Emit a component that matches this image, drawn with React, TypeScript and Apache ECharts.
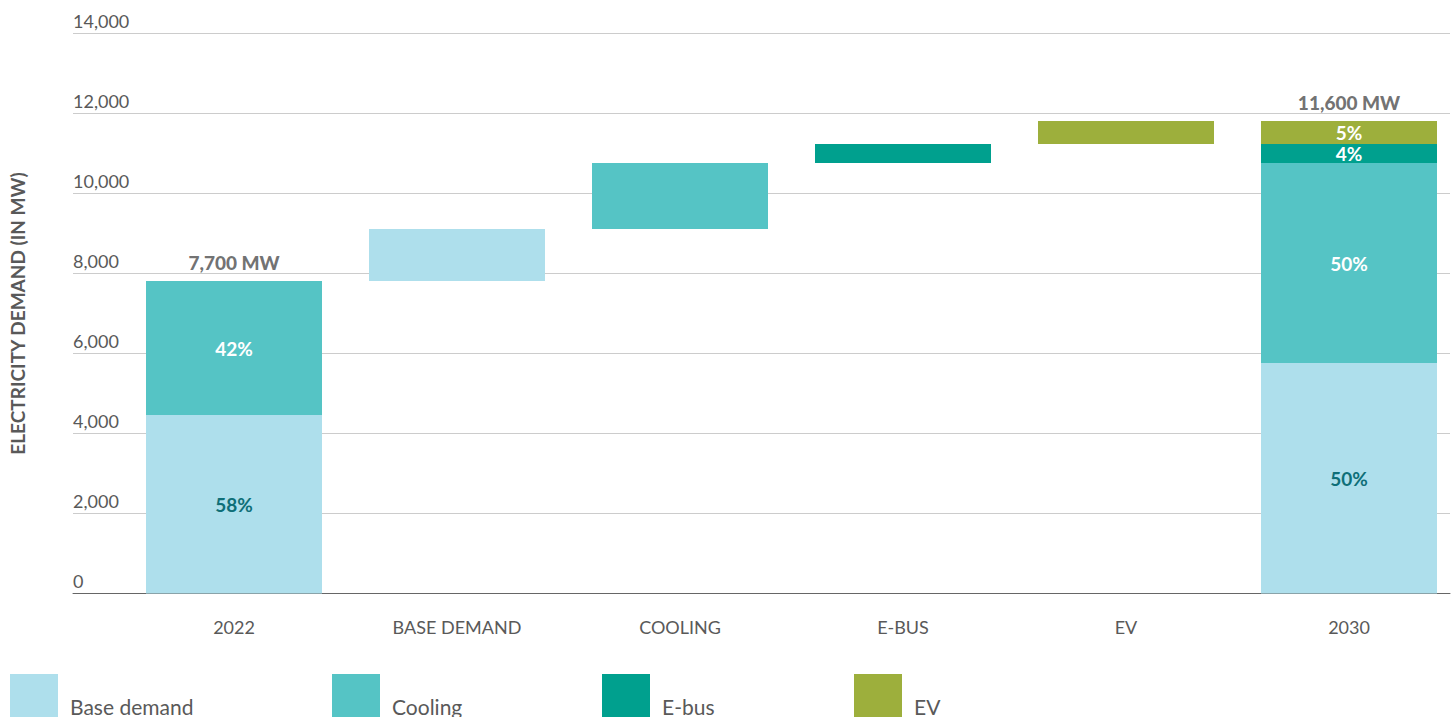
import React, { useEffect, useRef } from "react";
import * as echarts from "echarts";

const categories = ["2022", "BASE DEMAND", "COOLING", "E-BUS", "EV", "2030"];
const offset = [0, 7810, 9110, 10760, 11235, 0];
const baseDemand = [4460, 1300, null, null, null, 5760];
const cooling = [3350, null, 1650, null, null, 5000];
const eBus = [null, null, null, 475, null, 475];
const ev = [null, null, null, null, 575, 575];
const basePct = ["58%", "", "", "", "", "50%"];
const coolingPct = ["42%", "", "", "", "", "50%"];
const eBusPct = ["", "", "", "", "", "4%"];
const evPct = ["", "", "", "", "", "5%"];
const totalLabels = ["7,700 MW", "", "", "", "", "11,600 MW"];
const totalTops = [7810, null, null, null, null, 11810];
const legendNames = ["Base demand", "Cooling", "E-bus", "EV"];
const yTicks = [0, 2000, 4000, 6000, 8000, 10000, 12000, 14000];

const FONT = "Lato";
const GREY = "#595959";
const DARK = "#4d4d4d";
const COLORS = ["#aedfec", "#55c4c5", "#00a08e", "#9daf3c"];

function seg(values: (number | null)[], labels: string[]) {
  return values.map((v, i) =>
    v == null
      ? "-"
      : { value: v, label: { show: !!labels[i], formatter: labels[i] } }
  );
}

export default function App() {
  const ref = useRef<HTMLDivElement>(null);
  useEffect(() => {
    if (!ref.current) return;
    const chart = echarts.init(ref.current, null, { renderer: "svg" });
    const labelBase = {
      position: "inside",
      fontFamily: FONT,
      fontSize: 19,
      fontWeight: "bold",
    };
    const mk = (name: string, data: any, color: string, labelColor: string) => ({
      name,
      type: "bar",
      xAxisIndex: 1,
      yAxisIndex: 1,
      stack: "w",
      barWidth: 176,
      clip: false,
      itemStyle: { color },
      label: { ...labelBase, color: labelColor },
      data,
    });
    const option: any = {
      animation: false,
      grid: [
        { left: 70, right: 6, top: 33.5, bottom: 123.5 },
        { left: 234, right: 107, top: 33.5, bottom: 123.5 },
      ],
      xAxis: [
        {
          gridIndex: 0,
          type: "value",
          min: 0,
          max: 1,
          axisLine: { show: true, onZero: false, lineStyle: { color: "#666666", width: 1 } },
          axisTick: { show: false },
          axisLabel: { show: false },
          splitLine: { show: false },
        },
        {
          gridIndex: 1,
          type: "category",
          boundaryGap: false,
          data: categories,
          axisLine: { show: false },
          axisTick: { show: false },
          splitLine: { show: false },
          axisLabel: { margin: 24, color: GREY, fontSize: 18, fontFamily: FONT },
        },
      ],
      yAxis: [
        {
          gridIndex: 0,
          type: "value",
          min: yTicks[0],
          max: yTicks[yTicks.length - 1],
          interval: 2000,
          axisLine: { show: false },
          axisTick: { show: false },
          splitLine: { lineStyle: { color: "#cccccc", width: 1 } },
          axisLabel: {
            inside: true,
            margin: 0,
            verticalAlign: "bottom",
            lineHeight: 18,
            padding: [0, 0, 4, 0],
            color: GREY,
            fontSize: 18,
            fontFamily: FONT,
            formatter: (v: number) => v.toLocaleString("en-US"),
          },
          name: "ELECTRICITY DEMAND (IN MW)",
          nameLocation: "middle",
          nameRotate: 90,
          nameGap: 46,
          nameTextStyle: { color: GREY, fontSize: 19, fontWeight: "bold", fontFamily: FONT },
        },
        { gridIndex: 1, type: "value", min: 0, max: 14000, show: false },
      ],
      legend: legendNames.map((n, i) => ({
        data: [n],
        left: [10, 332, 602, 854][i],
        top: 674,
        padding: 0,
        itemWidth: 48,
        itemHeight: 64,
        icon: "rect",
        selectedMode: false,
        textStyle: { fontSize: 21, color: GREY, fontFamily: FONT, padding: [0, 0, 0, 7] },
      })),
      series: [
        {
          type: "bar",
          xAxisIndex: 1,
          yAxisIndex: 1,
          stack: "w",
          barWidth: 176,
          clip: false,
          silent: true,
          itemStyle: { color: "transparent" },
          data: offset,
        },
        mk(legendNames[0], seg(baseDemand, basePct), COLORS[0], "#0f6f78"),
        mk(legendNames[1], seg(cooling, coolingPct), COLORS[1], "#ffffff"),
        mk(legendNames[2], seg(eBus, eBusPct), COLORS[2], "#ffffff"),
        mk(legendNames[3], seg(ev, evPct), COLORS[3], "#ffffff"),
        {
          type: "scatter",
          xAxisIndex: 1,
          yAxisIndex: 1,
          symbolSize: 0,
          clip: false,
          silent: true,
          data: totalTops.map((v) => (v == null ? "-" : v)),
          label: {
            show: true,
            position: "top",
            distance: 9,
            color: DARK,
            fontSize: 19,
            fontWeight: 900,
            fontFamily: FONT,
            formatter: (p: any) => totalLabels[p.dataIndex],
          },
        },
      ],
    };
    chart.setOption(option);
    return () => chart.dispose();
  }, []);
  return (
    <div
      ref={ref}
      style={{ position: "absolute", left: 0, top: 0, width: 1456, height: 717 }}
    />
  );
}
